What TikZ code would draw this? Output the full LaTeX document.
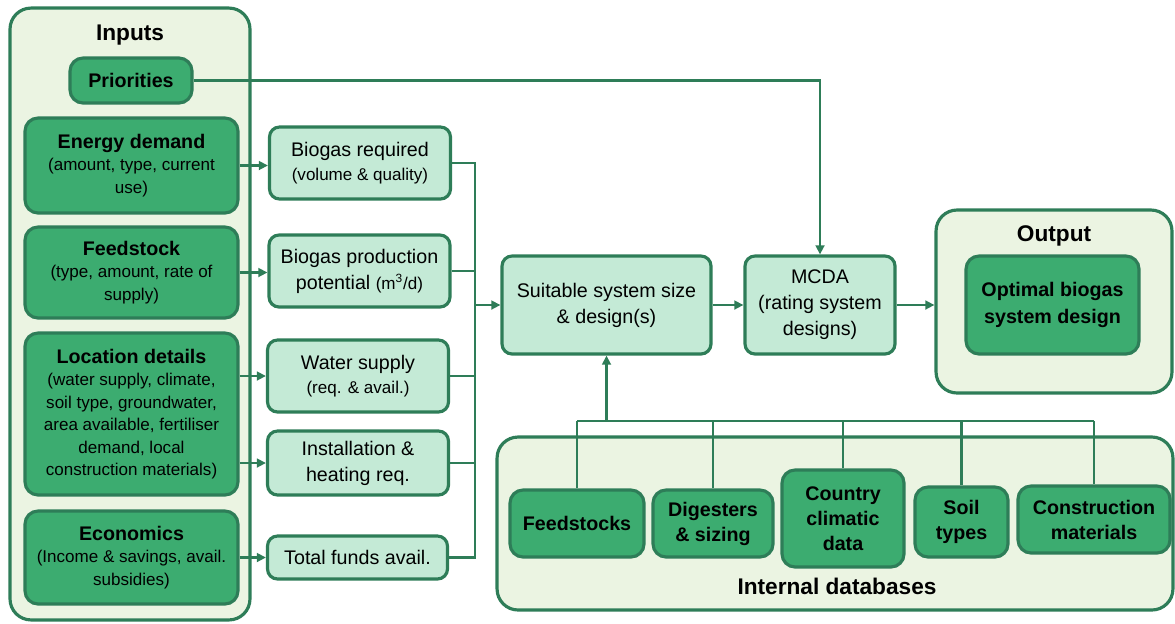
\documentclass[tikz,border=0pt]{standalone}
\usepackage{fontspec}
\setmainfont{Liberation Sans}
\usepackage{xcolor}
\usepackage{tikz}
\usetikzlibrary{arrows.meta,positioning,calc}
\definecolor{dkgreen}{RGB}{46,125,88}
\definecolor{midgreen}{RGB}{60,172,112}
\definecolor{ltgreen}{RGB}{196,234,214}
\definecolor{palegreen}{RGB}{235,244,226}
\newcommand{\hd}[1]{{\fontsize{11.2}{14}\selectfont\bfseries #1}}
\newcommand{\sub}[1]{{\fontsize{9.7}{13}\selectfont #1}}

\begin{document}
\begin{tikzpicture}[
    x=0.02cm, y=-0.02cm,
    font=\fontsize{9.7}{12.8}\selectfont,
    group/.style={rectangle, draw=dkgreen, line width=1.8pt, rounded corners=0.42cm, fill=palegreen},
    inbox/.style={rectangle, draw=dkgreen, line width=1.8pt, rounded corners=0.26cm, fill=midgreen, align=center, inner sep=2pt},
    midbox/.style={rectangle, draw=dkgreen, line width=1.8pt, rounded corners=0.2cm, fill=ltgreen, align=center, inner sep=2pt, font=\fontsize{11.2}{14.8}\selectfont},
    dbbox/.style={inbox, font=\fontsize{11.2}{14.2}\selectfont\bfseries},
    grouptitle/.style={font=\fontsize{12.9}{15}\selectfont\bfseries},
    arrow/.style={-{Triangle[length=5.2pt,width=5pt]}, draw=dkgreen, line width=1.6pt},
    link/.style={draw=dkgreen, line width=1.6pt}
]
    \useasboundingbox (0,0) rectangle (1175,623);

    % Inputs
    \node[group, minimum width=4.8cm, minimum height=12.24cm] (inputs) at (130,314) {};
    \node[grouptitle] (inputstitle) at (130,35) {Inputs};
    \node[inbox, minimum width=2.44cm, minimum height=0.9cm] (priorities) at (131,80.5) {\hd{Priorities}};
    \node[inbox, minimum width=4.26cm, minimum height=1.9cm] (energy) at (131.5,165.5)
        {\hd{Energy demand}\\(amount, type, current\\use)};
    \node[inbox, minimum width=4.26cm, minimum height=1.82cm] (feedstock) at (131.5,272.5)
        {\hd{Feedstock}\\(type, amount, rate of\\supply)};
    \node[inbox, minimum width=4.26cm, minimum height=3.24cm] (location) at (131.5,414)
        {\hd{Location details}\\(water supply, climate,\\soil type, groundwater,\\area available, fertiliser\\demand, local\\construction materials)};
    \node[inbox, minimum width=4.26cm, minimum height=1.86cm] (economics) at (131.5,557.5)
        {\hd{Economics}\\(Income \& savings, avail.\\subsidies)};

    % Requirements
    \node[midbox, minimum width=3.62cm, minimum height=1.44cm] (bioreq) at (360,163)
        {Biogas required\\[-1.5pt]\sub{(volume \& quality)}};
    \node[midbox, minimum width=3.62cm, minimum height=1.44cm] (biopot) at (359.5,271)
        {Biogas production\\potential \sub{(m\textsuperscript{3}/d)}};
    \node[midbox, minimum width=3.62cm, minimum height=1.44cm] (water) at (358,376)
        {Water supply\\[-1.5pt]\sub{(req. \& avail.)}};
    \node[midbox, minimum width=3.62cm, minimum height=1.28cm] (install) at (358,463)
        {Installation \&\\heating req.};
    \node[midbox, minimum width=3.6cm, minimum height=0.86cm] (funds) at (357.5,557.5)
        {Total funds avail.};

    % Design and rating
    \node[midbox, minimum width=4.18cm, minimum height=1.96cm] (suitable) at (606.5,305)
        {Suitable system size\\\& design(s)};
    \node[midbox, minimum width=3.0cm, minimum height=1.96cm] (mcda) at (820,305)
        {MCDA\\(rating system\\designs)};

    % Output
    \node[group, minimum width=4.72cm, minimum height=3.66cm] (output) at (1054,301.5) {};
    \node[grouptitle] (outputtitle) at (1054,236) {Output};
    \node[inbox, minimum width=3.46cm, minimum height=1.96cm, font=\fontsize{11.2}{15}\selectfont\bfseries] (optimal) at (1052.5,305)
        {Optimal biogas\\system design};

    % Internal databases
    \node[group, minimum width=13.52cm, minimum height=3.46cm] (databases) at (835,523.5) {};
    \node[grouptitle] (dbtitle) at (837,586) {Internal databases};
    \node[dbbox, minimum width=2.68cm, minimum height=1.34cm] (dbfeed) at (577,523.5) {Feedstocks};
    \node[dbbox, minimum width=2.4cm, minimum height=1.34cm] (dbdigest) at (713,523.5) {Digesters\\\& sizing};
    \node[dbbox, minimum width=2.44cm, minimum height=1.94cm] (dbclimate) at (843,518.5) {Country\\climatic\\data};
    \node[dbbox, minimum width=1.86cm, minimum height=1.4cm] (dbsoil) at (961.5,522) {Soil\\types};
    \node[dbbox, minimum width=3.04cm, minimum height=1.34cm] (dbconstr) at (1094,519.5) {Construction\\materials};

    % Routing
    \coordinate (bus) at (475,305);
    \coordinate (dbjoin) at (606.5,421);

    \draw[arrow] (priorities.east) -| (mcda.north);
    \draw[arrow] (energy.east) -- (energy.east -| bioreq.west);
    \draw[arrow] (feedstock.east) -- (feedstock.east -| biopot.west);
    \draw[arrow] (location.east |- water) -- (water.west);
    \draw[arrow] (location.east |- install) -- (install.west);
    \draw[arrow] (economics.east) -- (economics.east -| funds.west);

    \draw[link] (bioreq.east) -- (bioreq.east -| bus) |- (funds.east);
    \foreach \req in {biopot,water,install}
        \draw[link] (\req.east) -- (\req.east -| bus);
    \draw[arrow] (bus) -- (suitable.west);
    \draw[arrow] (suitable.east) -- (mcda.west);
    \draw[arrow] (mcda.east) -- (mcda.east -| output.west);

    \draw[link] (dbfeed.north |- dbjoin) -- (dbconstr.north |- dbjoin);
    \foreach \db in {dbfeed,dbdigest,dbclimate,dbsoil,dbconstr}
        \draw[link] (\db.north) -- (\db.north |- dbjoin);
    \draw[arrow] (dbjoin) -- (suitable.south);

\end{tikzpicture}
\end{document}
